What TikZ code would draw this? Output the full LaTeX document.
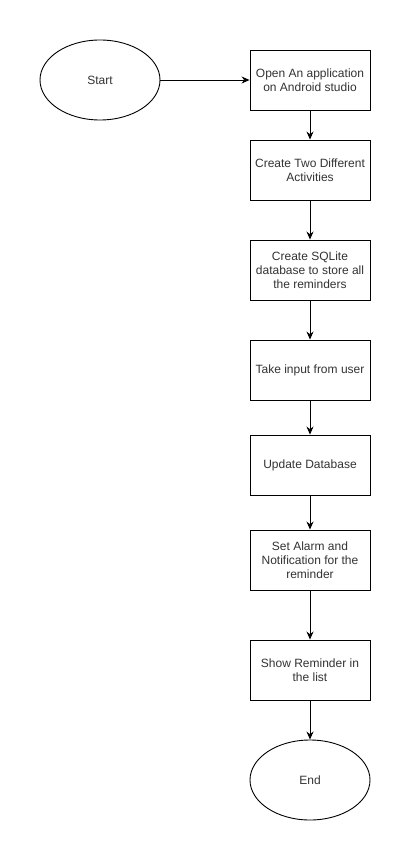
\documentclass[tikz,border=0pt]{standalone}
\usepackage{fontspec}
\setmainfont{Liberation Sans}
\usetikzlibrary{arrows.meta,positioning,shapes.geometric}

\tikzset{
  stepbox/.style={draw, line width=0.9pt, minimum width=120pt, minimum height=60pt, inner sep=2pt, align=center, font=\fontsize{12}{14}\selectfont, text=black!80},
  terminal/.style={draw, ellipse, line width=0.9pt, minimum width=120pt, minimum height=80pt, inner sep=0pt, font=\fontsize{12}{14}\selectfont, text=black!80},
  flow/.style={-{Stealth[length=8pt,width=7pt]}, line width=0.9pt}
}

\begin{document}
\begin{tikzpicture}[x=1pt,y=-1pt]
\useasboundingbox[fill=white] (0,0) rectangle (411,861);
% start and first step
\node[terminal] (start) at (100,80) {Start};
\node[stepbox] (open) at (310,80) {Open An application\\on Android studio};
% main column
\node[stepbox] (acts) at (310,170) {Create Two Different\\Activities};
\node[stepbox] (sqlite) at (310,270) {Create SQLite\\database to store all\\the reminders};
\node[stepbox] (input) at (310,370) {Take input from user};
\node[stepbox] (update) at (310,465) {Update Database};
\node[stepbox] (alarm) at (310,560) {Set Alarm and\\Notification for the\\reminder};
\node[stepbox] (show) at (310,670) {Show Reminder in\\the list};
\node[terminal] (end) at (310,780) {End};
% connectors
\draw[flow] (start) -- (open);
\draw[flow] (open) -- (acts);
\draw[flow] (acts) -- (sqlite);
\draw[flow] (sqlite) -- (input);
\draw[flow] (input) -- (update);
\draw[flow] (update) -- (alarm);
\draw[flow] (alarm) -- (show);
\draw[flow] (show) -- (end);
\end{tikzpicture}
\end{document}
